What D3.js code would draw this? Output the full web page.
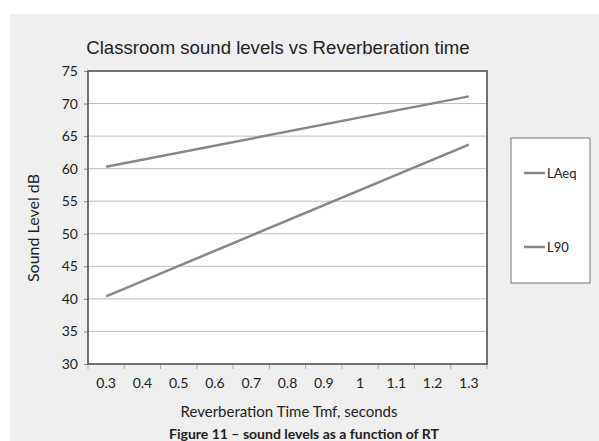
<!DOCTYPE html>
<html>
<head>
<meta charset="utf-8">
<script src="https://cdn.jsdelivr.net/npm/d3@7"></script>
<style>
  body { margin: 0; background: #fff; }
  svg text { fill: #222; }
</style>
</head>
<body>
<svg id="chart"></svg>
<script>
const categories = ['0.3', '0.4', '0.5', '0.6', '0.7', '0.8', '0.9', '1', '1.1', '1.2', '1.3'];
const seriesNames = ['LAeq', 'L90'];
const laeqPoints = [['0.3', 60.3], ['1.3', 71.1]];
const l90Points = [['0.3', 40.4], ['1.3', 63.7]];
const yTicks = [30, 35, 40, 45, 50, 55, 60, 65, 70, 75];

const width = 599, height = 441;
const plot = {left: 88, top: 71, right: 487, bottom: 364};
const lineColor = '#878787';
const bodyFont = 'Lato, "Open Sans", sans-serif';

const svg = d3.select('#chart').attr('width', width).attr('height', height);

// grey panel
svg.append('rect')
    .attr('x', 10).attr('y', 14)
    .attr('width', width - 10).attr('height', height - 14)
    .attr('fill', '#efefef');

const xScale = d3.scaleBand()
    .domain(categories)
    .range([plot.left, plot.right]);

const yScale = d3.scaleLinear()
    .domain([30, 75])
    .range([plot.bottom, plot.top]);

svg.append('rect')
    .attr('x', plot.left).attr('y', plot.top)
    .attr('width', plot.right - plot.left).attr('height', plot.bottom - plot.top)
    .attr('fill', '#fff');

// gridlines
svg.append('g')
    .selectAll('line')
    .data(yTicks.slice(1, -1))
    .enter()
    .append('line')
    .attr('x1', plot.left).attr('x2', plot.right)
    .attr('y1', d => yScale(d)).attr('y2', d => yScale(d))
    .attr('stroke', '#bdbdbd')
    .attr('stroke-width', 1);

// y axis
const yAxis = svg.append('g')
    .attr('transform', `translate(${plot.left},0)`)
    .call(d3.axisLeft(yScale).tickValues(yTicks).tickSize(4).tickPadding(6));
yAxis.select('.domain').remove();
yAxis.selectAll('line').attr('stroke', '#888');
yAxis.selectAll('text')
    .style('font-family', bodyFont)
    .style('font-size', '14px')
    .attr('fill', '#222');

// x axis, ticks on band edges
const xAxis = svg.append('g')
    .attr('transform', `translate(0,${plot.bottom})`)
    .call(d3.axisBottom(xScale).tickSize(0).tickPadding(14));
xAxis.select('.domain').remove();
xAxis.selectAll('text')
    .style('font-family', bodyFont)
    .style('font-size', '14px')
    .attr('fill', '#222');
xAxis.selectAll('.edge')
    .data(categories.concat(['end']))
    .enter()
    .append('line')
    .attr('x1', (d, i) => plot.left + i * xScale.bandwidth())
    .attr('x2', (d, i) => plot.left + i * xScale.bandwidth())
    .attr('y1', 0).attr('y2', 5)
    .attr('stroke', '#aaa');

// frame
svg.append('rect')
    .attr('x', plot.left).attr('y', plot.top)
    .attr('width', plot.right - plot.left).attr('height', plot.bottom - plot.top)
    .attr('fill', 'none')
    .attr('stroke', '#505050')
    .attr('stroke-width', 1.6);

// lines
const line = d3.line()
    .x(d => xScale(d[0]) + xScale.bandwidth() / 2)
    .y(d => yScale(d[1]));

[laeqPoints, l90Points].forEach(pts => {
    svg.append('path')
        .datum(pts)
        .attr('fill', 'none')
        .attr('stroke', lineColor)
        .attr('stroke-width', 2.5)
        .attr('d', line);
});

// titles
svg.append('text')
    .attr('x', 278).attr('y', 54)
    .attr('text-anchor', 'middle')
    .style('font-family', '"Liberation Sans", Arial, sans-serif')
    .style('font-size', '18.6px')
    .text('Classroom sound levels vs Reverberation time');

svg.append('text')
    .attr('transform', 'translate(39,228) rotate(-90)')
    .attr('text-anchor', 'middle')
    .style('font-family', bodyFont)
    .style('font-size', '16px')
    .text('Sound Level dB');

svg.append('text')
    .attr('x', 289).attr('y', 417)
    .attr('text-anchor', 'middle')
    .style('font-family', bodyFont)
    .style('font-size', '15px')
    .text('Reverberation Time Tmf, seconds');

svg.append('text')
    .attr('x', 304).attr('y', 439)
    .attr('text-anchor', 'middle')
    .style('font-family', bodyFont)
    .style('font-weight', 'bold')
    .style('font-size', '14px')
    .text('Figure 11 \u2013 sound levels as a function of RT');

// legend
const legend = svg.append('g');
legend.append('rect')
    .attr('x', 511).attr('y', 138)
    .attr('width', 79).attr('height', 145)
    .attr('fill', '#fff')
    .attr('stroke', '#777')
    .attr('stroke-width', 1);

const legendY = d3.scalePoint().domain(seriesNames).range([173, 247]);
seriesNames.forEach(name => {
    legend.append('line')
        .attr('x1', 524).attr('x2', 545)
        .attr('y1', legendY(name)).attr('y2', legendY(name))
        .attr('stroke', lineColor)
        .attr('stroke-width', 2.5);
    legend.append('text')
        .attr('x', 547).attr('y', legendY(name) + 5)
        .style('font-family', bodyFont)
        .style('font-size', '13px')
        .text(name);
});
</script>
</body>
</html>
